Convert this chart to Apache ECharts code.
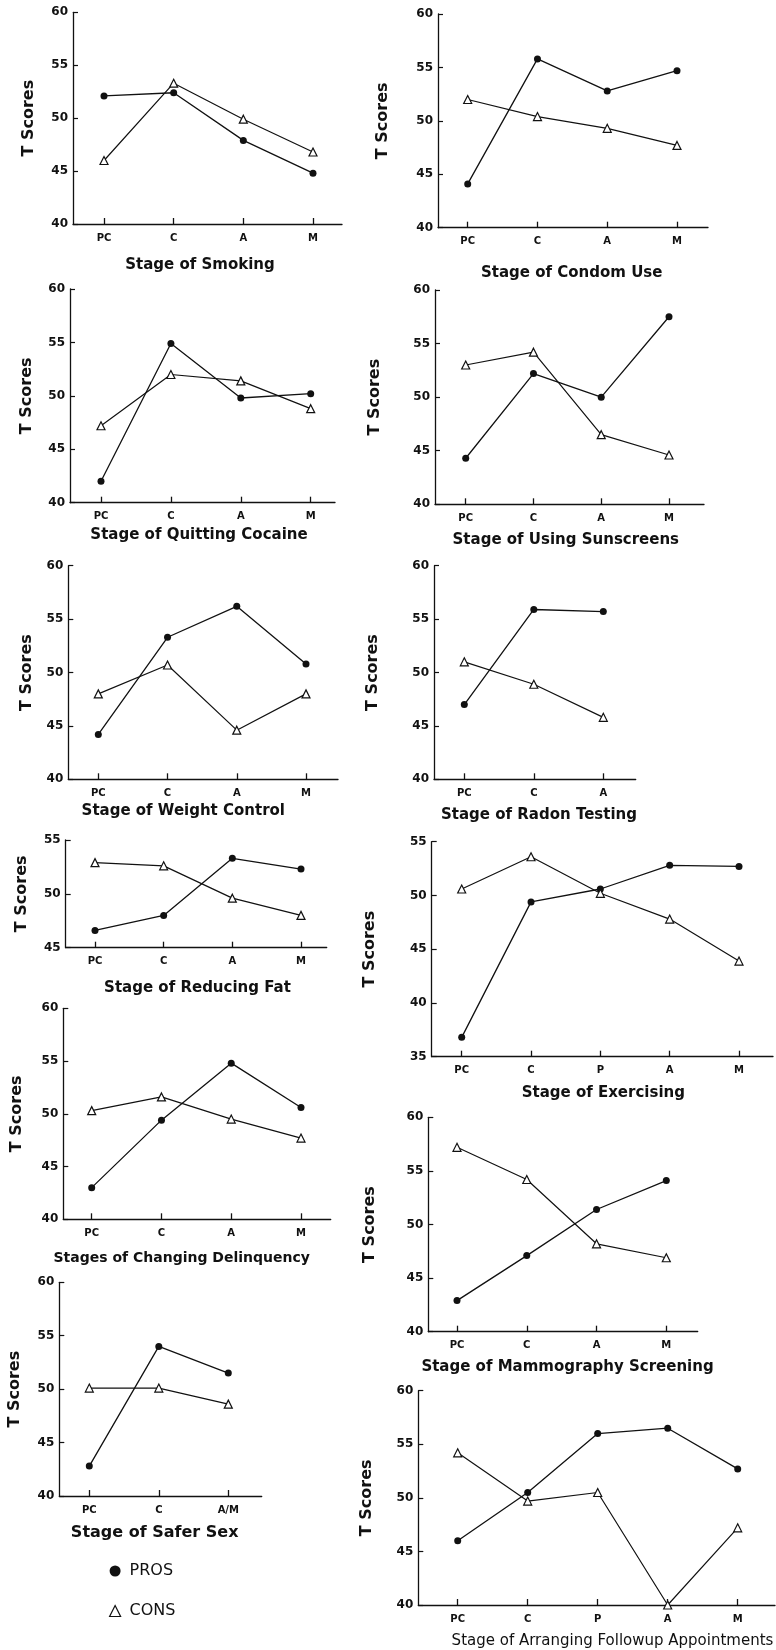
<!DOCTYPE html>
<html>
<head>
<meta charset="utf-8">
<script src="https://cdn.jsdelivr.net/npm/echarts@6/dist/echarts.min.js"></script>
<style>
html,body{margin:0;padding:0;background:#fff;}
#chart{width:776px;height:1650px;}
</style>
</head>
<body>
<div id="chart"></div>
<script>
// ---------------- DATA ----------------
const titles = [
  'Stage of Smoking', 'Stage of Condom Use',
  'Stage of Quitting Cocaine', 'Stage of Using Sunscreens',
  'Stage of Weight Control', 'Stage of Radon Testing',
  'Stage of Reducing Fat', 'Stage of Exercising',
  'Stages of Changing Delinquency', 'Stage of Mammography Screening',
  'Stage of Safer Sex', 'Stage of Arranging Followup Appointments'
];
const categories = [
  ['PC','C','A','M'], ['PC','C','A','M'],
  ['PC','C','A','M'], ['PC','C','A','M'],
  ['PC','C','A','M'], ['PC','C','A'],
  ['PC','C','A','M'], ['PC','C','P','A','M'],
  ['PC','C','A','M'], ['PC','C','A','M'],
  ['PC','C','A/M'], ['PC','C','P','A','M']
];
const prosValues = [
  [52.1, 52.4, 47.9, 44.8],
  [44.1, 55.8, 52.8, 54.7],
  [42.0, 54.9, 49.8, 50.2],
  [44.3, 52.2, 50.0, 57.5],
  [44.2, 53.3, 56.2, 50.8],
  [47.0, 55.9, 55.7],
  [46.6, 48.0, 53.3, 52.3],
  [36.8, 49.4, 50.6, 52.8, 52.7],
  [43.0, 49.4, 54.8, 50.6],
  [42.9, 47.1, 51.4, 54.1],
  [42.8, 54.0, 51.5],
  [46.0, 50.5, 56.0, 56.5, 52.7]
];
const consValues = [
  [46.0, 53.3, 49.9, 46.8],
  [52.0, 50.4, 49.3, 47.7],
  [47.2, 52.0, 51.4, 48.8],
  [53.0, 54.2, 46.5, 44.6],
  [48.0, 50.7, 44.6, 48.0],
  [51.0, 48.9, 45.8],
  [52.9, 52.6, 49.6, 48.0],
  [50.6, 53.6, 50.2, 47.8, 43.9],
  [50.3, 51.6, 49.5, 47.7],
  [57.2, 54.2, 48.2, 46.9],
  [50.1, 50.1, 48.6],
  [54.2, 49.7, 50.5, 40.0, 47.2]
];
const yMinValues = [40, 40, 40, 40, 40, 40, 45, 35, 40, 40, 40, 40];
const yMaxValues = [60, 60, 60, 60, 60, 60, 55, 55, 60, 60, 60, 60];
const yAxisTitle = 'T Scores';
const seriesNames = ['PROS', 'CONS'];

// ---------------- LAYOUT (pixel positions) ----------------
const layout = [
  {l:73,   r:342,   t:12.3,   b:224,    f:104,   la:313,   nx:29,  tx:200,   ty:265,    tw:'bold',   ts:15},
  {l:438,  r:708,   t:14,     b:227.7,  f:467.7, la:677,   nx:383, tx:571.7, ty:272.7,  tw:'bold',   ts:15},
  {l:70,   r:335,   t:289,    b:502.7,  f:101,   la:310.7, nx:27,  tx:199,   ty:535,    tw:'bold',   ts:15},
  {l:435,  r:704,   t:290,    b:504.3,  f:465.7, la:669,   nx:375, tx:565.8, ty:540,    tw:'bold',   ts:15},
  {l:68.3, r:338,   t:565.7,  b:779.3,  f:98.3,  la:306,   nx:27,  tx:183.3, ty:810.7,  tw:'bold',   ts:15},
  {l:434,  r:635.7, t:565.7,  b:779.3,  f:464.3, la:603.3, nx:373, tx:539,   ty:815,    tw:'bold',   ts:15},
  {l:65.7, r:326.7, t:840,    b:947.7,  f:95,    la:301,   nx:22,  tx:197.5, ty:987.7,  tw:'bold',   ts:15},
  {l:431.7,r:773,   t:841.7,  b:1056.7, f:461.7, la:739,   nx:370, tx:603.3, ty:1092.7, tw:'bold',   ts:15},
  {l:63.3, r:330.7, t:1008.3, b:1219.3, f:91.7,  la:301,   nx:17,  tx:181.7, ty:1258.3, tw:'bold',   ts:14},
  {l:428.3,r:697.7, t:1117.3, b:1331.7, f:457,   la:666.3, nx:370, tx:567.5, ty:1366.7, tw:'bold',   ts:15},
  {l:59.3, r:261.7, t:1282.3, b:1496,   f:89.3,  la:228.3, nx:15,  tx:154.7, ty:1533.3, tw:'bold',   ts:16},
  {l:418.3,r:775,   t:1390.7, b:1605,   f:457.7, la:737.7, nx:367, tx:612.5, ty:1641,   tw:'normal', ts:15}
];

const FONT = '"DejaVu Sans", "Liberation Sans", sans-serif';
const INK = '#111';

const grids = [], xAxes = [], yAxes = [], series = [], graphics = [];

layout.forEach((p, i) => {
  const cats = categories[i];
  const n = cats.length;
  const s = (p.la - p.f) / (n - 1);
  const idx = cats.map((c, j) => j);
  grids.push({left: p.l, top: p.t, width: p.r - p.l, height: p.b - p.t, containLabel: false});
  xAxes.push({
    type: 'value', gridIndex: i,
    min: -(p.f - p.l) / s, max: (n - 1) + (p.r - p.la) / s,
    splitLine: {show: false},
    axisLine: {show: true, onZero: false, lineStyle: {color: INK, width: 1.3}},
    axisTick: {show: true, inside: true, length: 6, customValues: idx, lineStyle: {color: INK, width: 1.3}},
    axisLabel: {show: true, customValues: idx, margin: 9, color: INK, fontFamily: FONT,
      fontWeight: 'bold', fontSize: 10,
      formatter: (v) => cats[Math.round(v)] || ''}
  });
  yAxes.push({
    type: 'value', gridIndex: i,
    min: yMinValues[i], max: yMaxValues[i], interval: 5,
    splitLine: {show: false},
    axisLine: {show: true, onZero: false, lineStyle: {color: INK, width: 1.3}},
    axisTick: {show: true, inside: true, length: 5, lineStyle: {color: INK, width: 1.2}},
    axisLabel: {margin: 5, color: INK, fontFamily: FONT, fontWeight: 'bold', fontSize: 12}
  });
  series.push({
    name: seriesNames[0], type: 'line', xAxisIndex: i, yAxisIndex: i,
    data: prosValues[i].map((v, j) => [j, v]),
    symbol: 'circle', symbolSize: 7, z: 3,
    lineStyle: {color: INK, width: 1.3},
    itemStyle: {color: INK, borderColor: INK, borderWidth: 0},
    emphasis: {disabled: true}, animation: false
  });
  series.push({
    name: seriesNames[1], type: 'line', xAxisIndex: i, yAxisIndex: i,
    data: consValues[i].map((v, j) => [j, v]),
    symbol: 'triangle', symbolSize: 8, z: 4,
    lineStyle: {color: INK, width: 1.2},
    itemStyle: {color: '#fff', borderColor: INK, borderWidth: 1.2},
    emphasis: {disabled: true}, animation: false
  });
  graphics.push({
    type: 'text', x: p.tx, y: p.ty,
    style: {text: titles[i], align: 'center', verticalAlign: 'middle',
      font: p.tw + ' ' + p.ts + 'px ' + FONT, fill: INK}
  });
  graphics.push({
    type: 'text', x: p.nx, y: (p.t + p.b) / 2, rotation: Math.PI / 2,
    style: {text: yAxisTitle, align: 'center', verticalAlign: 'middle',
      font: 'bold 16px ' + FONT, fill: INK}
  });
});

const chart = echarts.init(document.getElementById('chart'), null, {renderer: 'canvas'});
chart.setOption({
  backgroundColor: '#fff',
  animation: false,
  grid: grids,
  xAxis: xAxes,
  yAxis: yAxes,
  series: series,
  graphic: graphics,
  legend: {
    orient: 'vertical', left: 109, top: 1563, padding: 0, itemGap: 24,
    itemWidth: 11, itemHeight: 11, selectedMode: false,
    textStyle: {fontFamily: FONT, fontSize: 16, color: INK, padding: [0, 0, 0, 4]},
    data: [
      {name: 'PROS', icon: 'circle', itemStyle: {color: INK, borderWidth: 0}},
      {name: 'CONS', icon: 'triangle', itemStyle: {color: '#fff', borderColor: INK, borderWidth: 1.2}}
    ]
  }
});
</script>
</body>
</html>
